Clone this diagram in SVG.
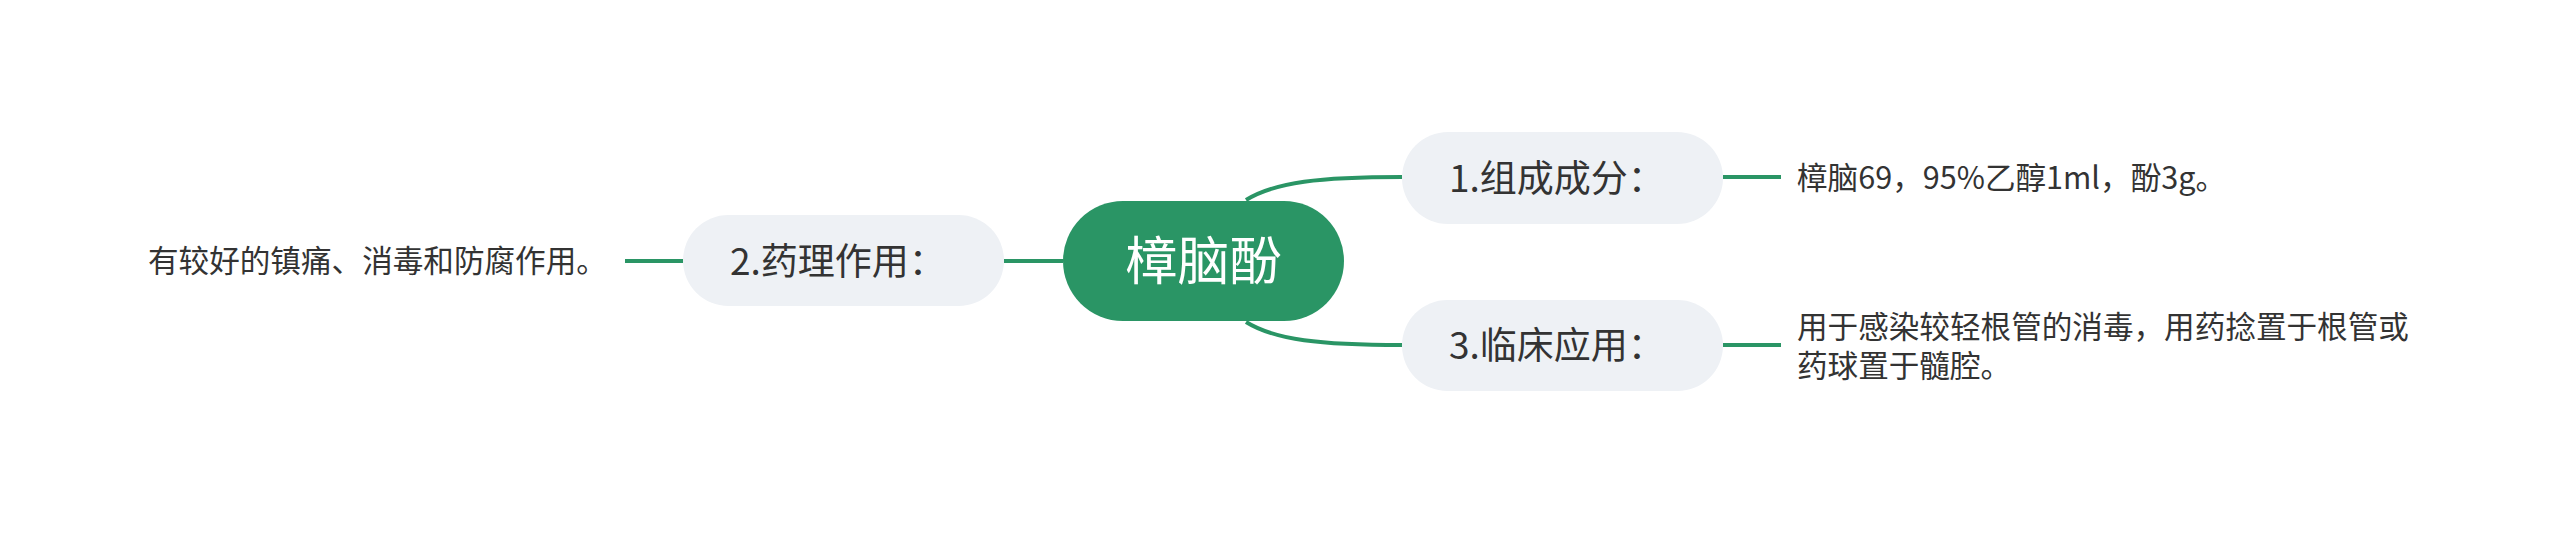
<svg xmlns="http://www.w3.org/2000/svg" width="2560" height="533" viewBox="0 0 2560 533">
<style>
.bg{fill:#ffffff}
.conn{fill:none;stroke:#2a9565;stroke-width:4}
.root{fill:#2a9565}
.sub{fill:#eef1f5}
.t{font-family:"Noto Sans CJK SC","Noto Sans",sans-serif;fill:#333333}
.rt{font-family:"Noto Sans CJK SC","Noto Sans",sans-serif;fill:#ffffff;font-size:52px}
.st{font-size:37px}
.lt{font-size:30.6px}
</style>
<rect class="bg" x="0" y="0" width="2560" height="533"/>
<g id="connectors">
<path class="conn" d="M1246,200 C1275,182 1320,177 1402,177"/>
<path class="conn" d="M1246,322 C1275,340 1320,345 1402,345"/>
<path class="conn" d="M1004,261 L1063,261"/>
<path class="conn" d="M625,261 L683,261"/>
<path class="conn" d="M1723,177 L1781,177"/>
<path class="conn" d="M1723,345 L1781,345"/>
</g>
<g id="root">
<rect class="root" x="1063" y="201" width="281" height="120" rx="60"/>
<text class="rt" x="1203.5" y="280" text-anchor="middle">樟脑酚</text>
</g>
<g id="node1">
<rect class="sub" x="1402" y="132" width="321" height="92" rx="46"/>
<text class="t st" x="1449" y="192">1.组成成分：</text>
</g>
<g id="node2">
<rect class="sub" x="683" y="215" width="321" height="91" rx="45.5"/>
<text class="t st" x="730" y="275">2.药理作用：</text>
</g>
<g id="node3">
<rect class="sub" x="1402" y="300" width="321" height="91" rx="45.5"/>
<text class="t st" x="1449" y="359">3.临床应用：</text>
</g>
<g id="leaf1">
<text class="t lt" x="1797" y="189">樟脑69，95%乙醇1ml，酚3g。</text>
</g>
<g id="leaf2">
<text class="t lt" x="148" y="272">有较好的镇痛、消毒和防腐作用。</text>
</g>
<g id="leaf3">
<text class="t lt" x="1797" y="338">用于感染较轻根管的消毒，用药捻置于根管或</text>
<text class="t lt" x="1797" y="377">药球置于髓腔。</text>
</g>
</svg>
